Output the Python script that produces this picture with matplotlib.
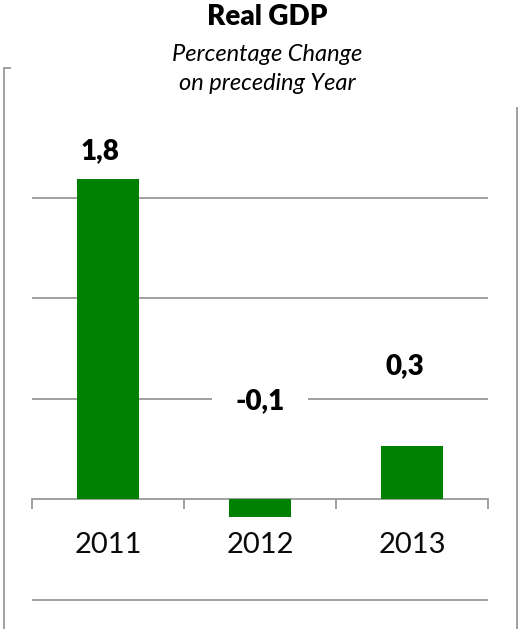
import matplotlib
matplotlib.use("Agg")
import matplotlib.pyplot as plt
from matplotlib.lines import Line2D

years = ["2011", "2012", "2013"]
growth = [1.8, -0.1, 0.3]

plt.rcParams["font.family"] = ["Lato", "DejaVu Sans"]

GREEN = "#008000"
GREY = "#a0a0a0"

W, H = 518, 629
fig = plt.figure(figsize=(W / 100, H / 100), dpi=100)

# plot area in pixels: x 32..488, y 120..620, zero line at y=499
px_per_unit = 177.8
top_px, bot_px, zero_px = 120, 620, 499
ax = fig.add_axes([32 / W, 1 - bot_px / H, 456 / W, (bot_px - top_px) / H])
ax.set_xlim(-0.5, 2.5)
ax.set_ylim(-(bot_px - zero_px) / px_per_unit, (zero_px - top_px) / px_per_unit)

x = range(len(years))
ax.bar(x, growth, width=0.41, color=GREEN, zorder=3)

# horizontal gridlines
step = 100.5 / px_per_unit
for k in (-1, 1, 2, 3):
    ax.axhline(k * step, color=GREY, lw=1.4, zorder=1)

for s in ("top", "right", "left"):
    ax.spines[s].set_visible(False)
ax.spines["bottom"].set_position(("data", 0))
ax.spines["bottom"].set_color(GREY)
ax.spines["bottom"].set_linewidth(1.4)
ax.spines["bottom"].set_zorder(2)

ax.set_yticks([])
ax.set_xticks(list(x))
ax.set_xticklabels(years, fontsize=21, color="#0a0a0a")
ax.set_xticks([-0.5, 0.5, 1.5, 2.5], minor=True)
ax.tick_params(axis="x", which="major", length=0, pad=23.5)
ax.tick_params(axis="x", which="minor", length=7.5, width=1.4, color=GREY, direction="out")

# value labels (heights in data units above the bar / zero line)
label_y = [1.8 + 28 / px_per_unit, 98 / px_per_unit, 133 / px_per_unit]
label_dx = [-0.05, 0.0, -0.05]
for i, v in enumerate(growth):
    txt = f"{v:.1f}".replace(".", ",")
    kw = {}
    if v < 0:
        kw["bbox"] = dict(facecolor="white", edgecolor="none", pad=4)
    t = ax.text(i + label_dx[i], label_y[i], txt, ha="center", va="center",
                fontsize=20, fontweight="heavy", zorder=5, **kw)
    if v < 0:
        t.get_bbox_patch().set_boxstyle("square", pad=0.85)

fig.text(267 / W, 1 - 17 / H, "Real GDP", ha="center", va="center",
         fontsize=20, fontweight="heavy")
fig.text(267 / W, 1 - 69 / H, "Percentage Change\non preceding Year", ha="center",
         va="center", fontsize=17, style="italic", linespacing=1.5)

# chart area border
fig.add_artist(Line2D([3.5 / W, 3.5 / W], [0, 1 - 68 / H], color=GREY, lw=1.4))
fig.add_artist(Line2D([3.5 / W, 10 / W], [1 - 68 / H, 1 - 68 / H], color=GREY, lw=1.4))
fig.add_artist(Line2D([516.5 / W, 516.5 / W], [0, 1 - 108 / H], color=GREY, lw=1.4))

fig.savefig("out.png", dpi=100)
